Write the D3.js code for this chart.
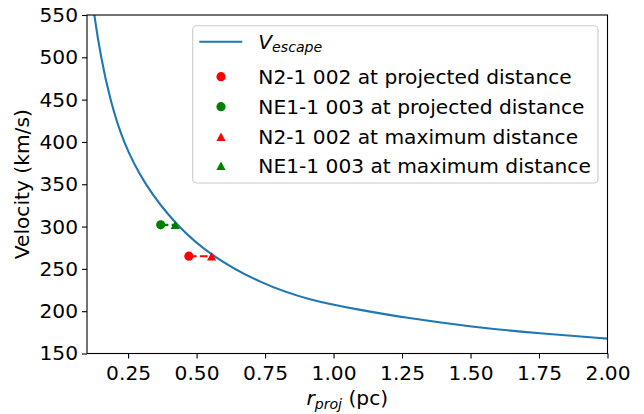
<!DOCTYPE html>
<html><head><meta charset="utf-8">
<script src="https://cdn.jsdelivr.net/npm/d3@7"></script>
<style>body{margin:0;background:#fff} text{font-family:"DejaVu Sans",sans-serif;fill:#000}</style>
</head><body><svg id="c" width="644" height="414"></svg>
<script>
// ---- data ----
const curveR = [0.118, 0.126, 0.150, 0.184, 0.230, 0.308, 0.429, 0.555, 0.732, 0.914, 1.097, 1.255, 1.504, 1.754, 2.000];
const curveV = [575, 550, 501, 450, 401, 350, 300, 265, 233, 212.5, 201.5, 192.5, 181.5, 173.5, 167.6];
const seriesNames = ["N2-1 002", "NE1-1 003"];
const projR = [0.472, 0.369];
const maxR = [0.555, 0.422];
const pointV = [265, 302];
const xTicks = [0.25, 0.50, 0.75, 1.00, 1.25, 1.50, 1.75, 2.00];
const yTicks = [150, 200, 250, 300, 350, 400, 450, 500, 550];

// ---- styling ----
const colors = ["#ff0000", "#008000"];
const blue = "#1f77b4";
const FS = 20.2;
const L = 87, R = 607.5, T = 15, B = 353.5;

const svg = d3.select("#c");
const x = d3.scaleLinear().domain([0.1, 2.0]).range([L, R]);
const y = d3.scaleLinear().domain([150, 550]).range([B, T]);

svg.append("defs").append("clipPath").attr("id", "clip")
  .append("rect").attr("x", L).attr("y", T).attr("width", R - L).attr("height", B - T);

// curve
const curveData = curveR.map((r, i) => [r, curveV[i]]);
svg.append("path").datum(curveData)
  .attr("clip-path", "url(#clip)")
  .attr("fill", "none").attr("stroke", blue).attr("stroke-width", 2.1)
  .attr("d", d3.line().x(d => x(d[0])).y(d => y(d[1])).curve(d3.curveBasis));

// dashed connectors
seriesNames.forEach((n, i) => {
  svg.append("line")
    .attr("x1", x(projR[i])).attr("x2", x(maxR[i]))
    .attr("y1", y(pointV[i])).attr("y2", y(pointV[i]))
    .attr("stroke", colors[i]).attr("stroke-width", 2.1)
    .attr("stroke-dasharray", "7.7,3.3");
});

function tri(cx, cy, color, g) {
  const w = 4.6, h = 4.2;
  (g || svg).append("path")
    .attr("d", `M${cx},${cy - h}L${cx + w},${cy + h}L${cx - w},${cy + h}Z`)
    .attr("fill", color);
}
function circ(cx, cy, color, g) {
  (g || svg).append("circle").attr("cx", cx).attr("cy", cy).attr("r", 4.6).attr("fill", color);
}

seriesNames.forEach((n, i) => {
  circ(x(projR[i]), y(pointV[i]), colors[i]);
  tri(x(maxR[i]), y(pointV[i]), colors[i]);
});

// axes
const xa = svg.append("g").attr("transform", `translate(0,${B})`)
  .call(d3.axisBottom(x).tickValues(xTicks).tickFormat(d3.format(".2f")).tickSize(5).tickPadding(7));
const ya = svg.append("g").attr("transform", `translate(${L},0)`)
  .call(d3.axisLeft(y).tickValues(yTicks).tickFormat(d3.format("d")).tickSize(5).tickPadding(4));
[xa, ya].forEach(a => {
  a.select(".domain").remove();
  a.selectAll(".tick line").attr("stroke", "#000").attr("stroke-width", 1.1);
  a.selectAll(".tick text").attr("font-size", FS).attr("font-family", "DejaVu Sans").attr("fill", "#000");
});

// spines
svg.append("rect").attr("x", L).attr("y", T).attr("width", R - L).attr("height", B - T)
  .attr("fill", "none").attr("stroke", "#000").attr("stroke-width", 1.1);

// axis labels
const xl = svg.append("text").attr("x", (L + R) / 2).attr("y", 405).attr("text-anchor", "middle").attr("font-size", FS);
xl.append("tspan").attr("font-style", "italic").text("r");
xl.append("tspan").attr("font-style", "italic").attr("font-size", FS * 0.7).attr("dy", 4).text("proj");
xl.append("tspan").attr("dy", -4).text(" (pc)");

svg.append("text").attr("transform", `translate(28.5,${(T + B) / 2}) rotate(-90)`)
  .attr("text-anchor", "middle").attr("font-size", FS).text("Velocity (km/s)");

// legend
const lg = svg.append("g");
lg.append("rect").attr("x", 192.7).attr("y", 25.7).attr("width", 405.3).attr("height", 157.3)
  .attr("rx", 4).attr("fill", "#fff").attr("fill-opacity", 0.8).attr("stroke", "#cccccc").attr("stroke-width", 1.1);
const rows = [41.7, 76.7, 106.7, 136.7, 165.7];
const hx = 221, tx = 258.3;
lg.append("line").attr("x1", 199.3).attr("x2", 242.3).attr("y1", rows[0]).attr("y2", rows[0])
  .attr("stroke", blue).attr("stroke-width", 2.1);
const vt = lg.append("text").attr("x", tx).attr("y", rows[0] + 7).attr("font-size", FS);
vt.append("tspan").attr("font-style", "italic").text("V");
vt.append("tspan").attr("font-style", "italic").attr("font-size", FS * 0.7).attr("dy", 3).text("escape");

const entries = [];
seriesNames.forEach((n, i) => entries.push({label: `${n} at projected distance`, shape: "c", color: colors[i]}));
seriesNames.forEach((n, i) => entries.push({label: `${n} at maximum distance`, shape: "t", color: colors[i]}));
entries.forEach((e, k) => {
  const cy = rows[k + 1];
  if (e.shape === "c") circ(hx, cy, e.color, lg); else tri(hx, cy, e.color, lg);
  lg.append("text").attr("x", tx).attr("y", cy + 7).attr("font-size", FS).text(e.label);
});
</script></body></html>
